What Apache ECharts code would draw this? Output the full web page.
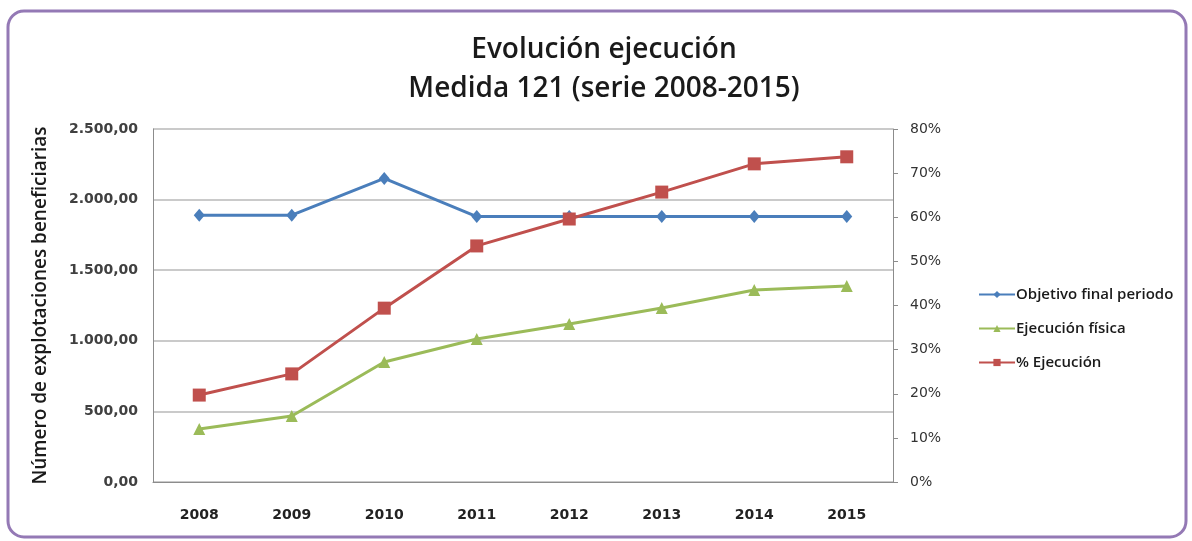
<!DOCTYPE html>
<html><head><meta charset="utf-8">
<script src="https://cdn.jsdelivr.net/npm/echarts@6/dist/echarts.min.js"></script>
<style>html,body{margin:0;padding:0;background:#fff}#c{width:1192px;height:541px}</style>
</head><body><div id="c"></div>
<script>
const years = ['2008','2009','2010','2011','2012','2013','2014','2015'];
const objetivo = [1890, 1890, 2150, 1880, 1880, 1880, 1880, 1880];
const fisica = [375, 467, 850, 1013, 1119, 1232, 1360, 1388];
const pctEjec = [19.7, 24.5, 39.4, 53.5, 59.6, 65.7, 72.1, 73.7];

const fmtNum = v => {
  const s = Math.round(v).toString().replace(/\B(?=(\d{3})+(?!\d))/g, '.');
  return s + ',00';
};
const font = '"Open Sans", "DejaVu Sans", sans-serif';
const dv = '"DejaVu Sans", sans-serif';
const chart = echarts.init(document.getElementById('c'));
chart.setOption({
  backgroundColor: '#fff',
  animation: false,
  textStyle: { fontFamily: font },
  graphic: [{
    type: 'rect', shape: { x: 8, y: 11, width: 1178, height: 526, r: 16 },
    style: { fill: 'none', stroke: '#9479b5', lineWidth: 3 }
  }],
  title: {
    text: 'Evolución ejecución\nMedida 121 (serie 2008-2015)',
    left: 599, top: 26, textAlign: 'center',
    textStyle: { fontFamily: font, fontSize: 28, fontWeight: 600, color: '#1a1a1a', lineHeight: 39 }
  },
  legend: {
    orient: 'vertical', left: 973, top: 282, itemGap: 19, itemWidth: 36, itemHeight: 9,
    textStyle: { fontFamily: font, fontSize: 15, fontWeight: 600, color: '#1a1a1a', padding: [0, 0, 0, -4] },
    data: ['Objetivo final periodo', 'Ejecución física', '% Ejecución']
  },
  grid: { left: 153, right: 299, top: 129, bottom: 59 },
  xAxis: {
    type: 'category', data: years, boundaryGap: true,
    axisLine: { lineStyle: { color: '#8c8c8c', width: 1 } },
    axisTick: { show: false },
    axisLabel: { fontFamily: dv, fontSize: 14, fontWeight: 'bold', color: '#222', margin: 26 }
  },
  yAxis: [{
    type: 'value', min: 0, max: 2500, interval: 500,
    name: 'Número de explotaciones beneficiarias', nameLocation: 'middle', nameGap: 103, nameRotate: 90,
    nameTextStyle: { fontFamily: font, fontSize: 19, fontWeight: 600, color: '#1a1a1a' },
    axisLine: { show: true, lineStyle: { color: '#8c8c8c' } },
    axisTick: { show: false },
    axisLabel: { fontFamily: dv, fontSize: 14, fontWeight: 'bold', color: '#404040', margin: 15, formatter: fmtNum },
    splitLine: { lineStyle: { color: '#b8b8b8', width: 1.5 } }
  }, {
    type: 'value', min: 0, max: 80, interval: 10,
    axisLine: { show: true, lineStyle: { color: '#8c8c8c' } },
    axisTick: { show: true, length: 5, lineStyle: { color: '#8c8c8c' } },
    axisLabel: { fontFamily: dv, fontSize: 14, color: '#333', margin: 17, formatter: v => v + '%' },
    splitLine: { show: false }
  }],
  series: [{
    name: 'Objetivo final periodo', type: 'line', data: objetivo, yAxisIndex: 0,
    symbol: 'diamond', symbolSize: [11, 13], color: '#4a7ebb',
    lineStyle: { width: 3, color: '#4a7ebb' }, itemStyle: { color: '#4a7ebb' }
  }, {
    name: 'Ejecución física', type: 'line', data: fisica, yAxisIndex: 0,
    symbol: 'triangle', symbolSize: 12, color: '#9bbb59',
    lineStyle: { width: 3, color: '#9bbb59' }, itemStyle: { color: '#9bbb59' }
  }, {
    name: '% Ejecución', type: 'line', data: pctEjec, yAxisIndex: 1,
    symbol: 'rect', symbolSize: 13, color: '#c0504d',
    lineStyle: { width: 3, color: '#c0504d' }, itemStyle: { color: '#c0504d' }
  }]
});
</script></body></html>
